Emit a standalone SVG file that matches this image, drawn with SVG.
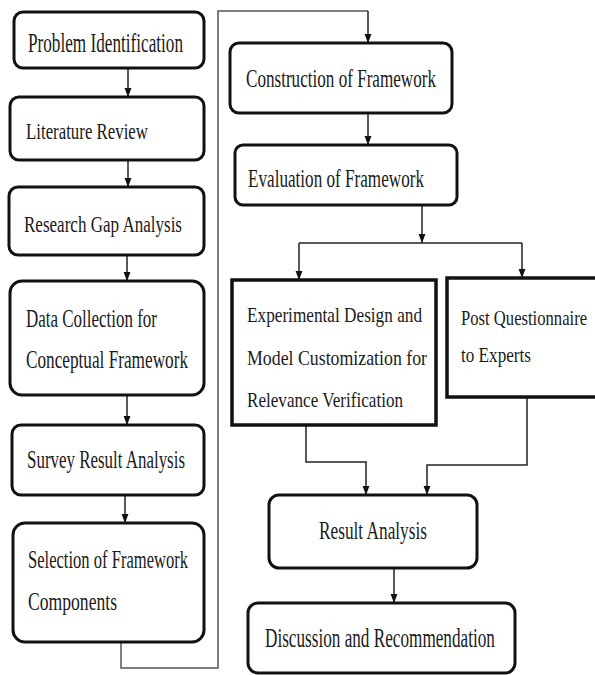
<svg xmlns="http://www.w3.org/2000/svg" width="595" height="675" viewBox="0 0 595 675">
<style>
.box{fill:#fff;stroke:#111;stroke-width:3}
.sq{fill:#fff;stroke:#111;stroke-width:3.5}
.t{font-family:"Liberation Serif","Times New Roman",serif;fill:#1a1a1a}
.c{fill:none;stroke:#222;stroke-width:1.5}
.g{fill:none;stroke:#555;stroke-width:1.5}
</style>
<defs>
<marker id="ad" markerUnits="userSpaceOnUse" markerWidth="10" markerHeight="14" refX="13" refY="5" orient="auto" viewBox="0 0 14 10">
<path d="M0,0 L13,5 L0,10 Z" fill="#111"/>
</marker>
</defs>
<rect width="595" height="675" fill="#fff"/>
<g id="connectors">
<path class="c" d="M128,68 V97" marker-end="url(#ad)"/>
<path class="c" d="M128,160 V187" marker-end="url(#ad)"/>
<path class="c" d="M127,255 V281" marker-end="url(#ad)"/>
<path class="c" d="M127,395 V425" marker-end="url(#ad)"/>
<path class="c" d="M125,495 V523" marker-end="url(#ad)"/>
<path class="g" d="M121,642 V668 H218 V11 H368"/>
<path class="c" d="M368,11 V43" marker-end="url(#ad)"/>
<path class="c" d="M368,113 V145" marker-end="url(#ad)"/>
<path class="c" d="M422,205 V243" marker-end="url(#ad)"/>
<path class="c" d="M299,243 H522"/>
<path class="c" d="M299,243 V280" marker-end="url(#ad)"/>
<path class="c" d="M522,243 V278" marker-end="url(#ad)"/>
<path class="c" d="M306,425 V462 H366 V495" marker-end="url(#ad)"/>
<path class="c" d="M527,397 V465 H427 V495" marker-end="url(#ad)"/>
<path class="c" d="M394,568 V603" marker-end="url(#ad)"/>
</g>
<g id="n1"><rect class="box" x="14" y="12" width="190" height="56" rx="9"/><text class="t" x="28" y="52" font-size="27" textLength="155" lengthAdjust="spacingAndGlyphs">Problem Identification</text></g>
<g id="n2"><rect class="box" x="10" y="97" width="194" height="63" rx="9"/><text class="t" x="26" y="139" font-size="24" textLength="122" lengthAdjust="spacingAndGlyphs">Literature Review</text></g>
<g id="n3"><rect class="box" x="9" y="187" width="195" height="68" rx="9"/><text class="t" x="24" y="232" font-size="24" textLength="158" lengthAdjust="spacingAndGlyphs">Research Gap Analysis</text></g>
<g id="n4"><rect class="box" x="10" y="281" width="194" height="114" rx="12"/><text class="t" x="26" y="327" font-size="25" textLength="131" lengthAdjust="spacingAndGlyphs">Data Collection for</text><text class="t" x="26" y="368" font-size="25" textLength="162" lengthAdjust="spacingAndGlyphs">Conceptual Framework</text></g>
<g id="n5"><rect class="box" x="12" y="425" width="192" height="70" rx="9"/><text class="t" x="27" y="468" font-size="26" textLength="158" lengthAdjust="spacingAndGlyphs">Survey Result Analysis</text></g>
<g id="n6"><rect class="box" x="13" y="523" width="191" height="119" rx="12"/><text class="t" x="28" y="568" font-size="26" textLength="160" lengthAdjust="spacingAndGlyphs">Selection of Framework</text><text class="t" x="28" y="610" font-size="26" textLength="89" lengthAdjust="spacingAndGlyphs">Components</text></g>
<g id="n7"><rect class="box" x="230" y="43" width="222" height="70" rx="9"/><text class="t" x="246" y="87" font-size="26" textLength="190" lengthAdjust="spacingAndGlyphs">Construction of Framework</text></g>
<g id="n8"><rect class="box" x="235" y="145" width="222" height="60" rx="8"/><text class="t" x="248" y="187" font-size="26" textLength="176" lengthAdjust="spacingAndGlyphs">Evaluation of Framework</text></g>
<g id="n9"><rect class="sq" x="232" y="280" width="204" height="145"/><text class="t" x="247" y="322" font-size="22" textLength="175" lengthAdjust="spacingAndGlyphs">Experimental Design and</text><text class="t" x="247" y="365" font-size="22" textLength="180" lengthAdjust="spacingAndGlyphs">Model Customization for</text><text class="t" x="247" y="407" font-size="22" textLength="156" lengthAdjust="spacingAndGlyphs">Relevance Verification</text></g>
<g id="n10"><rect class="sq" x="447" y="278" width="160" height="119"/><text class="t" transform="translate(461,325) scale(0.755,1)" x="0" y="0" font-size="22" textLength="167" lengthAdjust="spacingAndGlyphs">Post Questionnaire</text><text class="t" x="461" y="362" font-size="22" textLength="70" lengthAdjust="spacingAndGlyphs">to Experts</text></g>
<g id="n11"><rect class="box" x="269" y="495" width="208" height="73" rx="10"/><text class="t" x="319" y="539" font-size="26" textLength="108" lengthAdjust="spacingAndGlyphs">Result Analysis</text></g>
<g id="n12"><rect class="box" x="248" y="603" width="267" height="70" rx="10"/><text class="t" transform="translate(265,647) scale(0.613,1)" x="0" y="0" font-size="28" textLength="375" lengthAdjust="spacingAndGlyphs">Discussion and Recommendation</text></g>
</svg>
